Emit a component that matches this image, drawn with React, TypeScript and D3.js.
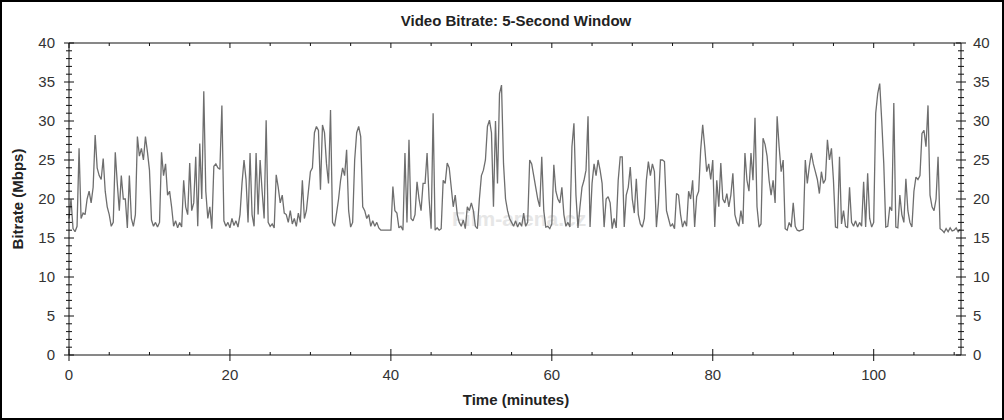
import React from 'react';
import * as d3 from 'd3';

// 5-second window bitrate, one reading every 15 s (0.25 min), Mbps
const STEP_MIN = 0.25;
const bitrate: number[] = [
  17.5, 20, 16.2, 15.8, 16.5, 26.5, 17.5, 18.2, 18, 20, 21, 19.5, 21.5, 28.2, 24, 23,
  22.5, 25.2, 21, 19, 18, 16.5, 17, 26, 22, 18.5, 23, 20, 20, 16.3, 23, 17.5,
  16.5, 18, 28, 25.5, 26.5, 25, 28, 26, 23.7, 17.3, 16.5, 17, 16.4, 17, 26, 23,
  24.5, 20.5, 21, 19, 16.5, 17.2, 16.3, 17, 16.4, 22.4, 19, 18, 24.6, 18.5, 19.5, 25.4,
  16.5, 27.1, 20, 33.8, 21, 17.5, 19, 16.2, 24.2, 24.5, 24, 23.8, 32, 17.2, 16.5, 17,
  16.3, 17.5, 16.6, 17.2, 16.4, 18, 22, 25, 22.5, 17, 25.9, 18, 16.5, 25.9, 18, 25,
  21, 17.5, 30.1, 17, 16.5, 16.8, 16.3, 23.1, 21.5, 19.5, 20.5, 18.2, 18, 17, 18.5, 16.8,
  17.5, 16.5, 18.2, 17, 22.4, 17.5, 18.5, 21, 23.5, 24, 28.5, 29.3, 28.8, 21.2, 29.5, 28.5,
  24.5, 22, 31.4, 17, 16.5, 18.2, 20, 22.4, 24, 23, 26.3, 18.5, 16.4, 17, 25, 28.5,
  29.3, 28, 19, 18.5, 17.5, 18, 16.5, 17.2, 16.5, 17, 16.3, 16, 16, 16, 16, 16,
  16, 21.6, 18.5, 18.2, 16.3, 16.5, 16, 25.9, 17, 27.6, 17.5, 17.2, 18, 22.2, 20, 18.5,
  22, 22, 25.9, 20, 16.2, 31, 16, 16.3, 16, 16.2, 22.4, 22, 24.6, 24, 21.5, 19,
  20.5, 18, 17, 16.5, 17.3, 16.2, 19, 18.5, 19.5, 18.5, 16.5, 16.2, 20, 23, 23.7, 25,
  29.3, 30.1, 28.5, 19, 30, 22, 33.5, 34.6, 24.5, 20, 18.5, 17.5, 17, 16.5, 17.2, 16.4,
  17, 16.5, 18.2, 16.5, 17, 25, 24.5, 23, 21.5, 20, 19, 25.4, 18.5, 16.4, 16.5, 16.2,
  16.8, 24.4, 21, 20, 19.5, 21.5, 18, 16.5, 17, 16.4, 26.7, 29.7, 20.5, 16.3, 19, 21.5,
  22.4, 23.7, 30.6, 16.4, 22, 24.5, 23, 25, 23.7, 22, 16.4, 20, 20.3, 19.5, 16.2, 17.5,
  16.3, 22.4, 25.4, 25.4, 16.4, 20.5, 21.5, 24.1, 20, 18.2, 22.6, 18, 16.8, 16.4, 17.5, 22.4,
  24.8, 23, 24.5, 23.5, 16.4, 19.5, 25, 25, 24.8, 18.5, 17.5, 16.5, 16.8, 16.2, 20.7, 20.5,
  18, 16.4, 17.2, 16.5, 21, 20, 22.4, 16.4, 20.3, 21, 26.3, 29.5, 26.7, 23.5, 24.5, 22.5,
  25, 16.4, 22.4, 19, 24.6, 20, 19.5, 20.7, 19, 20.5, 23.3, 18, 17, 16.5, 18.5, 16.8,
  25.9, 22.4, 21, 25.9, 22.4, 30.4, 19, 16.4, 16.8, 27.8, 27, 25.5, 22.4, 20.5, 22.4, 19.5,
  30.6, 26.7, 23.5, 25, 16.2, 16, 17, 16.4, 19.5, 16.5, 16, 15.9, 16, 16.1, 25, 22,
  24.2, 25.9, 24.5, 23.5, 22.5, 20.7, 23.5, 22, 22.5, 27.6, 25, 26.5, 22.4, 16.4, 16.3, 25.4,
  16.8, 18.5, 16.5, 16.3, 21.5, 17, 16.5, 17.2, 16.4, 17, 16.5, 22.2, 16.4, 23.3, 17.5, 16.4,
  17, 31, 33.5, 34.8, 30, 24.6, 16.4, 16.5, 19, 18.5, 32.3, 16.4, 16.3, 20.5, 18, 17,
  22.6, 18.5, 17, 16.4, 21, 22.8, 22.5, 23, 28.4, 28.8, 26.7, 32, 20.5, 19, 18.5, 20,
  25.4, 16.2, 16, 15.7, 16.2, 15.8, 16.3, 15.9, 16, 16.3, 15.8, 16.1,
];
const minutes = bitrate.map((_, i) => i * STEP_MIN);

const xMajor = [0, 20, 40, 60, 80, 100];
const yMajor = [0, 5, 10, 15, 20, 25, 30, 35, 40];

const W = 1004;
const H = 420;
const left = 69;
const right = 961;
const top = 43;
const bottom = 355;

const App: React.FC = () => {
  const x = d3.scaleLinear().domain([0, 110.85]).range([left, right]);
  const y = d3.scaleLinear().domain([0, 40]).range([bottom, top]);

  const line = d3
    .line<number>()
    .x((_, i) => x(minutes[i]))
    .y((d) => y(d));

  const xMinor = d3.range(0, 111, 5).filter((t) => t % 20 !== 0);
  const yMinor = d3.range(0, 41, 1).filter((v) => v % 5 !== 0);
  const font = 'Arial, "Liberation Sans", sans-serif';

  return (
    <svg
      width={W}
      height={H}
      style={{ position: 'fixed', left: 0, top: 0, background: '#fff' }}
      fontFamily={font}
    >
      <rect x={1} y={1} width={W - 2} height={H - 2} fill="#fff" stroke="#000" strokeWidth={2} />

      <text x={516} y={26} textAnchor="middle" fontSize={15} fontWeight="bold" fill="#222">
        Video Bitrate: 5-Second Window
      </text>

      {/* watermark */}
      <text x={452} y={226} fontSize={21} fontWeight="bold" fill="#e6e6e6">
        Film-arena.cz
      </text>

      <path
        d={line(bitrate) ?? ''}
        fill="none"
        stroke="#6e6e6e"
        strokeWidth={1.3}
        strokeLinejoin="miter"
        strokeMiterlimit={2}
      />

      {/* frame lines */}
      <g stroke="#111" strokeWidth={1}>
        <line x1={left} x2={right} y1={top} y2={top} />
        <line x1={left} x2={right} y1={bottom} y2={bottom} />
        <line x1={left} x2={left} y1={top} y2={bottom} />
        <line x1={right} x2={right} y1={top} y2={bottom} />

        {yMajor.map((v) => (
          <g key={`ym${v}`}>
            <line x1={left - 5} x2={left + 5} y1={y(v)} y2={y(v)} />
            <line x1={right - 5} x2={right + 5} y1={y(v)} y2={y(v)} />
          </g>
        ))}
        {yMinor.map((v) => (
          <g key={`yn${v}`}>
            <line x1={left - 3} x2={left + 3} y1={y(v)} y2={y(v)} />
            <line x1={right - 3} x2={right + 3} y1={y(v)} y2={y(v)} />
          </g>
        ))}
        {xMajor.map((t) => (
          <g key={`xm${t}`}>
            <line x1={x(t)} x2={x(t)} y1={bottom - 6} y2={bottom + 6} />
            <line x1={x(t)} x2={x(t)} y1={top} y2={top + 5} />
          </g>
        ))}
        {xMinor.map((t) => (
          <g key={`xn${t}`}>
            <line x1={x(t)} x2={x(t)} y1={bottom - 3} y2={bottom} />
            <line x1={x(t)} x2={x(t)} y1={top} y2={top + 3} />
          </g>
        ))}
      </g>

      <g fontSize={15} fill="#333">
        {yMajor.map((v) => (
          <g key={`yl${v}`}>
            <text x={55} y={y(v) + 5} textAnchor="end">
              {v}
            </text>
            <text x={973} y={y(v) + 5} textAnchor="start">
              {v}
            </text>
          </g>
        ))}
        {xMajor.map((t) => (
          <text key={`xl${t}`} x={x(t)} y={380} textAnchor="middle">
            {t}
          </text>
        ))}
      </g>

      <text
        transform={`translate(23,${(top + bottom) / 2}) rotate(-90)`}
        textAnchor="middle"
        fontSize={15}
        fontWeight="bold"
        fill="#222"
      >
        Bitrate (Mbps)
      </text>
      <text x={516} y={405} textAnchor="middle" fontSize={15} fontWeight="bold" fill="#222">
        Time (minutes)
      </text>
    </svg>
  );
};

export default App;
